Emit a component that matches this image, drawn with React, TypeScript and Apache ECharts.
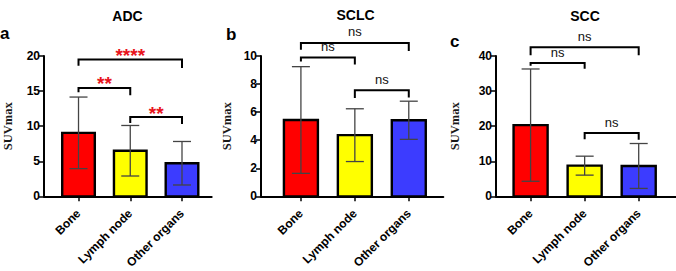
import React, { useEffect, useRef } from 'react';
import * as echarts from 'echarts';

// ---------- data ----------
const categories = ['Bone', 'Lymph node', 'Other organs'];

const adcMean = [9.05, 6.5, 4.72];
const adcSD = [5.1, 3.6, 3.1];
const adcYTicks = [0, 5, 10, 15, 20];
const adcBrackets = [
  { from: 0, to: 2, y: 19.5, leftEnd: 18.6, rightEnd: 18.3, label: '****' },
  { from: 0, to: 1, y: 15.45, leftEnd: 14.85, rightEnd: 14.4, label: '**' },
  { from: 1, to: 2, y: 11.3, leftEnd: 10.45, rightEnd: 10.3, label: '**' },
];

const sclcMean = [5.44, 4.36, 5.42];
const sclcSD = [3.8, 1.88, 1.36];
const sclcYTicks = [0, 2, 4, 6, 8, 10];
const sclcBrackets = [
  { from: 0, to: 2, y: 10.93, leftEnd: 10.45, rightEnd: 10.35, label: 'ns' },
  { from: 0, to: 1, y: 9.9, leftEnd: 9.6, rightEnd: 9.4, label: 'ns' },
  { from: 1, to: 2, y: 7.56, leftEnd: 7.0, rightEnd: 7.04, label: 'ns' },
];

const sccMean = [20.3, 8.75, 8.66];
const sccSD = [16.0, 2.7, 6.4];
const sccYTicks = [0, 10, 20, 30, 40];
const sccBrackets = [
  { from: 0, to: 2, y: 42.5, leftEnd: 40.2, rightEnd: 40.2, label: 'ns' },
  { from: 0, to: 1, y: 38.0, leftEnd: 37.2, rightEnd: 36.4, label: 'ns' },
  { from: 1, to: 2, y: 18.05, leftEnd: 16.3, rightEnd: 16.1, label: 'ns' },
];

const titles = ['ADC', 'SCLC', 'SCC'];
const letters = ['a', 'b', 'c'];
const yName = 'SUVmax';

// ---------- styles / layout ----------
const barColors = ['#ff0000', '#ffff00', '#3c3cff'];
const SANS = '"Liberation Sans", Arial, sans-serif';
const SERIF = '"Liberation Serif", "Times New Roman", serif';
const BAR_W = 0.63; // in category units
const CAP_HALF = 9; // px

type Bracket = { from: number; to: number; y: number; leftEnd: number; rightEnd: number; label: string };

const panels = [
  { mean: adcMean, sd: adcSD, ticks: adcYTicks, brackets: adcBrackets, left: 36.7, width: 175, xMin: -0.667, xMax: 2.574, nameGap: 30, title: { x: 127.5, y: 16 }, letter: { x: 0, y: 42 } },
  { mean: sclcMean, sd: sclcSD, ticks: sclcYTicks, brackets: sclcBrackets, left: 261, width: 182.3, xMin: -0.74, xMax: 2.64, nameGap: 28, title: { x: 355.5, y: 15 }, letter: { x: 226, y: 43 } },
  { mean: sccMean, sd: sccSD, ticks: sccYTicks, brackets: sccBrackets, left: 496, width: 180, xMin: -0.64, xMax: 2.69, nameGap: 35, title: { x: 585, y: 16 }, letter: { x: 450, y: 50 } },
];

const GRID_TOP = 56;
const GRID_H = 149;

function buildOption() {
  const grid: any[] = [];
  const xAxis: any[] = [];
  const yAxis: any[] = [];
  const series: any[] = [];
  const graphic: any[] = [];

  panels.forEach((p, k) => {
    grid.push({ left: p.left, top: GRID_TOP, width: p.width, height: GRID_H, containLabel: false });
    xAxis.push({
      type: 'value',
      gridIndex: k,
      min: p.xMin,
      max: p.xMax,
      splitLine: { show: false },
      axisLine: { show: true, onZero: false, lineStyle: { color: '#000', width: 2 } },
      axisTick: { show: true, customValues: [0, 1, 2], length: 5, lineStyle: { color: '#000', width: 1.5 } },
      axisLabel: {
        show: true,
        customValues: [0, 1, 2],
        formatter: (v: number) => categories[Math.round(v)] ?? '',
        rotate: 45,
        margin: 15,
        color: '#000',
        fontFamily: SANS,
        fontWeight: 'bold',
        fontSize: 12,
      },
    });
    const tks = p.ticks;
    yAxis.push({
      type: 'value',
      gridIndex: k,
      min: tks[0],
      max: tks[tks.length - 1],
      interval: tks[1] - tks[0],
      name: yName,
      nameLocation: 'middle',
      nameRotate: 90,
      nameGap: p.nameGap,
      nameTextStyle: { fontFamily: SERIF, fontSize: 12.5, fontWeight: 'bold', color: '#1a1a1a' },
      splitLine: { show: false },
      axisLine: { show: true, onZero: false, lineStyle: { color: '#000', width: 2 } },
      axisTick: { show: true, length: 5, lineStyle: { color: '#000', width: 1.5 } },
      axisLabel: { color: '#000', fontFamily: SANS, fontWeight: 'bold', fontSize: 12, margin: 4 },
    });

    // bars + error bars
    series.push({
      type: 'custom',
      xAxisIndex: k,
      yAxisIndex: k,
      clip: false,
      data: p.mean.map((m, i) => [i, m, p.sd[i]]),
      renderItem: (params: any, api: any) => {
        const i = api.value(0);
        const m = api.value(1);
        const s = api.value(2);
        const base = api.coord([i, 0]);
        const top = api.coord([i, m]);
        const hi = api.coord([i, m + s]);
        const lo = api.coord([i, m - s]);
        const w = api.size([BAR_W, 0])[0];
        const errStyle = { stroke: '#444', lineWidth: 1.3 };
        return {
          type: 'group',
          children: [
            {
              type: 'rect',
              shape: { x: base[0] - w / 2, y: top[1], width: w, height: base[1] - top[1] },
              style: { fill: barColors[params.dataIndex], stroke: '#000', lineWidth: 2.4 },
            },
            { type: 'line', shape: { x1: hi[0], y1: hi[1], x2: lo[0], y2: lo[1] }, style: errStyle },
            { type: 'line', shape: { x1: hi[0] - CAP_HALF, y1: hi[1], x2: hi[0] + CAP_HALF, y2: hi[1] }, style: errStyle },
            { type: 'line', shape: { x1: lo[0] - CAP_HALF, y1: lo[1], x2: lo[0] + CAP_HALF, y2: lo[1] }, style: errStyle },
          ],
        };
      },
    });

    // significance brackets
    const br: Bracket[] = p.brackets;
    series.push({
      type: 'custom',
      xAxisIndex: k,
      yAxisIndex: k,
      clip: false,
      data: br.map((b) => [b.from, b.y, b.to, b.leftEnd, b.rightEnd]),
      renderItem: (params: any, api: any) => {
        const b = br[params.dataIndex];
        const p1 = api.coord([b.from, b.leftEnd]);
        const p2 = api.coord([b.from, b.y]);
        const p3 = api.coord([b.to, b.y]);
        const p4 = api.coord([b.to, b.rightEnd]);
        const star = b.label.indexOf('*') >= 0;
        return {
          type: 'group',
          children: [
            {
              type: 'polyline',
              shape: { points: [p1, p2, p3, p4] },
              style: { stroke: '#000', lineWidth: 2, fill: 'none' },
            },
            {
              type: 'text',
              x: (p2[0] + p3[0]) / 2,
              y: p2[1] - (star ? 4 : 11),
              style: {
                text: b.label,
                fill: star ? '#e8141c' : '#111',
                font: star ? `bold 19px ${SANS}` : `13px ${SANS}`,
                align: 'center',
                verticalAlign: 'middle',
                textAlign: 'center',
                textVerticalAlign: 'middle',
              },
            },
          ],
        };
      },
    });

    graphic.push({
      type: 'text',
      x: p.title.x,
      y: p.title.y,
      style: { text: titles[k], fill: '#000', font: `bold 14px ${SANS}`, align: 'center', verticalAlign: 'middle', textAlign: 'center', textVerticalAlign: 'middle' },
    });
    graphic.push({
      type: 'text',
      x: p.letter.x,
      y: p.letter.y,
      style: { text: letters[k], fill: '#000', font: `bold 17px ${SANS}`, align: 'left', verticalAlign: 'bottom', textAlign: 'left', textVerticalAlign: 'bottom' },
    });
  });

  return {
    animation: false,
    backgroundColor: '#fff',
    grid,
    xAxis,
    yAxis,
    series,
    graphic,
  };
}

export default function App() {
  const ref = useRef<HTMLDivElement>(null);
  useEffect(() => {
    if (!ref.current) return;
    const chart = echarts.init(ref.current, undefined, { renderer: 'svg' });
    chart.setOption(buildOption());
    return () => chart.dispose();
  }, []);
  return <div ref={ref} style={{ position: 'fixed', left: 0, top: 0, width: 676, height: 271, background: '#fff' }} />;
}
